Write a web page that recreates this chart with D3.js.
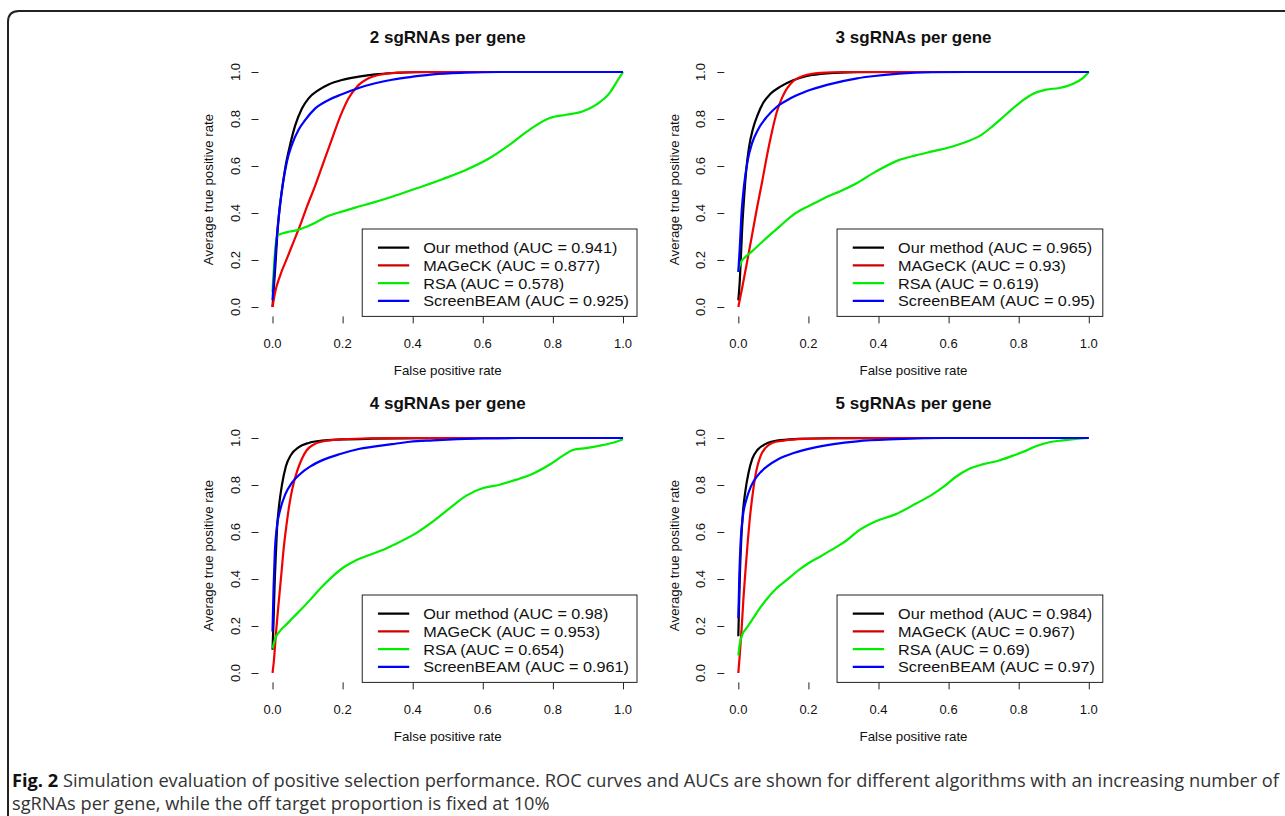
<!DOCTYPE html>
<html>
<head>
<meta charset="utf-8">
<script src="https://cdn.jsdelivr.net/npm/d3@7"></script>
<style>
  html, body { margin: 0; padding: 0; background: #fff; }
  svg { display: block; }
</style>
</head>
<body>
<svg id="chart" width="1285" height="816"></svg>
<script>
// ROC curves: [false positive rate, average true positive rate]
var methods = ["Our method", "MAGeCK", "RSA", "ScreenBEAM"];
var colors = ["#000000", "#f00000", "#00ee00", "#0000ff"];
var titles = ["2 sgRNAs per gene", "3 sgRNAs per gene", "4 sgRNAs per gene", "5 sgRNAs per gene"];
var aucs = [
  ["0.941", "0.877", "0.578", "0.925"],
  ["0.965", "0.93", "0.619", "0.95"],
  ["0.98", "0.953", "0.654", "0.961"],
  ["0.984", "0.967", "0.69", "0.97"]
];
var tickVals = [0, 0.2, 0.4, 0.6, 0.8, 1.0];

var p2_our = [[0,0],[0.0076,0.163],[0.015,0.334],[0.025,0.476],[0.036,0.589],[0.05,0.689],[0.065,0.774],[0.084,0.845],[0.103,0.888],[0.131,0.923],[0.16,0.947],[0.198,0.966],[0.246,0.98],[0.293,0.99],[0.35,0.996],[0.41,0.999],[0.5,1],[1,1]];
var p2_mageck = [[0,0],[0.0076,0.064],[0.022,0.135],[0.041,0.206],[0.06,0.277],[0.079,0.348],[0.098,0.426],[0.122,0.518],[0.146,0.618],[0.17,0.717],[0.193,0.81],[0.217,0.888],[0.241,0.9375],[0.274,0.973],[0.312,0.99],[0.36,0.997],[0.42,1],[1,1]];
var p2_rsa = [[0,0.064],[0.0057,0.206],[0.013,0.303],[0.027,0.3125],[0.046,0.32],[0.07,0.327],[0.093,0.339],[0.122,0.359],[0.16,0.388],[0.198,0.406],[0.236,0.423],[0.284,0.443],[0.341,0.469],[0.411,0.505],[0.487,0.545],[0.553,0.584],[0.62,0.634],[0.677,0.691],[0.734,0.755],[0.791,0.804],[0.838,0.818],[0.886,0.833],[0.924,0.861],[0.962,0.911],[0.986,0.967],[1,1]];
var p2_screenbeam = [[0,0.03],[0.0095,0.249],[0.019,0.405],[0.029,0.518],[0.041,0.618],[0.055,0.689],[0.074,0.753],[0.093,0.795],[0.122,0.845],[0.16,0.881],[0.198,0.905],[0.246,0.932],[0.293,0.952],[0.341,0.967],[0.4,0.98],[0.458,0.99],[0.55,0.997],[0.65,1],[1,1]];

var p3_our = [[0,0.028],[0.004,0.107],[0.0076,0.22],[0.011,0.334],[0.017,0.476],[0.023,0.589],[0.03,0.675],[0.042,0.76],[0.055,0.817],[0.072,0.871],[0.091,0.906],[0.12,0.9375],[0.158,0.966],[0.196,0.983],[0.253,0.994],[0.339,0.999],[0.46,1],[1,1]];
var p3_mageck = [[0,0],[0.0105,0.078],[0.025,0.192],[0.039,0.305],[0.053,0.419],[0.068,0.533],[0.082,0.646],[0.096,0.746],[0.11,0.831],[0.125,0.891],[0.139,0.93],[0.158,0.963],[0.187,0.984],[0.234,0.996],[0.301,1],[1,1]];
var p3_rsa = [[0,0.156],[0.0057,0.185],[0.02,0.213],[0.039,0.237],[0.063,0.27],[0.091,0.308],[0.12,0.345],[0.149,0.384],[0.177,0.412],[0.215,0.44],[0.253,0.469],[0.291,0.493],[0.339,0.528],[0.391,0.575],[0.458,0.625],[0.506,0.645],[0.553,0.662],[0.601,0.679],[0.649,0.702],[0.697,0.736],[0.725,0.769],[0.763,0.818],[0.802,0.868],[0.84,0.906],[0.878,0.925],[0.916,0.932],[0.954,0.949],[0.983,0.974],[1,1]];
var p3_screenbeam = [[0,0.149],[0.004,0.249],[0.0095,0.405],[0.017,0.526],[0.027,0.625],[0.039,0.696],[0.058,0.76],[0.082,0.81],[0.11,0.852],[0.149,0.888],[0.196,0.919],[0.253,0.945],[0.339,0.973],[0.382,0.982],[0.458,0.993],[0.553,0.999],[0.65,1],[1,1]];

var p4_our = [[0,0.099],[0.003,0.22],[0.0057,0.362],[0.0095,0.504],[0.013,0.617],[0.019,0.716],[0.027,0.801],[0.038,0.879],[0.053,0.929],[0.074,0.96],[0.103,0.979],[0.141,0.989],[0.198,0.994],[0.284,0.997],[0.45,0.999],[0.63,1],[1,1]];
var p4_mageck = [[0,0],[0.0038,0.05],[0.0095,0.163],[0.017,0.291],[0.025,0.418],[0.032,0.532],[0.04,0.631],[0.048,0.716],[0.057,0.787],[0.07,0.858],[0.084,0.912],[0.098,0.949],[0.117,0.972],[0.146,0.986],[0.198,0.994],[0.284,0.999],[0.4,1],[1,1]];
var p4_rsa = [[0,0.104],[0.0076,0.146],[0.022,0.18],[0.041,0.209],[0.06,0.238],[0.084,0.274],[0.112,0.319],[0.141,0.367],[0.17,0.409],[0.203,0.45],[0.236,0.478],[0.274,0.501],[0.312,0.522],[0.341,0.542],[0.411,0.596],[0.458,0.645],[0.506,0.702],[0.553,0.755],[0.601,0.787],[0.648,0.801],[0.696,0.823],[0.743,0.848],[0.791,0.887],[0.829,0.925],[0.857,0.949],[0.895,0.957],[0.933,0.967],[0.971,0.98],[1,0.995]];
var p4_screenbeam = [[0,0.177],[0.003,0.362],[0.0067,0.518],[0.012,0.617],[0.022,0.695],[0.036,0.759],[0.055,0.809],[0.079,0.847],[0.108,0.879],[0.146,0.908],[0.193,0.932],[0.246,0.953],[0.341,0.974],[0.392,0.984],[0.458,0.99],[0.6,0.998],[0.7,1],[1,1]];

var p5_our = [[0,0.156],[0.0019,0.277],[0.0048,0.433],[0.0086,0.574],[0.013,0.681],[0.02,0.773],[0.029,0.851],[0.04,0.912],[0.055,0.95],[0.077,0.974],[0.11,0.989],[0.168,0.996],[0.253,0.999],[0.58,1],[1,1]];
var p5_mageck = [[0,0],[0.0038,0.071],[0.0095,0.191],[0.015,0.326],[0.021,0.447],[0.027,0.56],[0.034,0.674],[0.042,0.773],[0.051,0.858],[0.063,0.922],[0.077,0.957],[0.096,0.979],[0.13,0.989],[0.187,0.996],[0.282,0.999],[0.4,1],[1,1]];
var p5_rsa = [[0,0.075],[0.0038,0.121],[0.0105,0.16],[0.025,0.194],[0.044,0.237],[0.063,0.279],[0.082,0.316],[0.11,0.362],[0.139,0.397],[0.168,0.433],[0.201,0.468],[0.234,0.496],[0.272,0.529],[0.31,0.565],[0.342,0.605],[0.391,0.645],[0.448,0.675],[0.506,0.72],[0.553,0.759],[0.587,0.794],[0.62,0.834],[0.658,0.868],[0.697,0.888],[0.744,0.904],[0.782,0.924],[0.811,0.94],[0.849,0.965],[0.887,0.982],[0.926,0.99],[0.964,0.996],[1,1]];
var p5_screenbeam = [[0,0.234],[0.003,0.418],[0.0067,0.56],[0.013,0.667],[0.023,0.738],[0.036,0.794],[0.055,0.84],[0.082,0.879],[0.115,0.911],[0.158,0.936],[0.21,0.957],[0.272,0.974],[0.339,0.986],[0.45,0.995],[0.59,1],[1,1]];

var curves = [
  [p2_our, p2_mageck, p2_rsa, p2_screenbeam],
  [p3_our, p3_mageck, p3_rsa, p3_screenbeam],
  [p4_our, p4_mageck, p4_rsa, p4_screenbeam],
  [p5_our, p5_mageck, p5_rsa, p5_screenbeam]
];

var FONT = "'Liberation Sans', Arial, sans-serif";
var svg = d3.select("#chart");

// page frame with rounded corner
svg.append("path")
  .attr("d", "M8,816 V22 Q8,11 19,11 H1285")
  .attr("fill", "none").attr("stroke", "#222").attr("stroke-width", 2);

function txt(parent, x, y, s, size, opt) {
  opt = opt || {};
  var sx = opt.sx || 1;
  var tr = "translate(" + x + "," + y + ")" +
    (opt.rot ? " rotate(" + opt.rot + ")" : " scale(" + sx + ",1)");
  return parent.append("text")
    .attr("transform", tr)
    .attr("font-family", FONT)
    .attr("font-size", size)
    .attr("font-weight", opt.weight || "normal")
    .attr("text-anchor", opt.anchor || "middle")
    .attr("dominant-baseline", opt.baseline || "alphabetic")
    .attr("fill", "#111")
    .text(s);
}

var pw = 378.5, ph = 253.8;
var lefts = [258.5, 724.3], tops = [62.6, 428.6];

titles.forEach(function(title, i) {
  var L = lefts[i % 2], T = tops[Math.floor(i / 2)];
  var R = L + pw, B = T + ph;
  var g = svg.append("g");

  var x = d3.scaleLinear().domain([-0.04, 1.04]).range([L, R]);
  var y = d3.scaleLinear().domain([-0.04, 1.04]).range([B, T]);

  // axes: ticks from d3, labels placed by hand
  var xa = g.append("g").attr("transform", "translate(0," + B + ")")
    .call(d3.axisBottom(x).tickValues(tickVals).tickSize(7).tickSizeOuter(0));
  var ya = g.append("g").attr("transform", "translate(" + L + ",0)")
    .call(d3.axisLeft(y).tickValues(tickVals).tickSize(7).tickSizeOuter(0));
  [xa, ya].forEach(function(a) {
    a.select(".domain").remove();
    a.attr("color", "#222");
    a.selectAll(".tick text").remove();
  });
  tickVals.forEach(function(v) {
    txt(g, x(v), B + 31.5, d3.format(".1f")(v), 13);
    txt(g, L - 19, y(v), d3.format(".1f")(v), 13, {rot: -90});
  });

  txt(g, (L + R) / 2, T - 20, title, 17, {weight: "bold"});
  txt(g, (L + R) / 2, B + 58.6, "False positive rate", 13.3);
  txt(g, L - 45.5, (T + B) / 2, "Average true positive rate", 13.3, {rot: -90});

  // curves
  var line = d3.line()
    .x(function(d) { return x(d[0]); })
    .y(function(d) { return y(d[1]); })
    .curve(d3.curveMonotoneX);
  curves[i].forEach(function(c, k) {
    g.append("path").datum(c)
      .attr("d", line)
      .attr("fill", "none")
      .attr("stroke", colors[k])
      .attr("stroke-width", 2.2)
      .attr("stroke-linejoin", "round");
  });

  // legend, bottom right
  var lg = g.append("g");
  var box = lg.append("rect");
  var labels = methods.map(function(m, k) { return m + " (AUC = " + aucs[i][k] + ")"; });
  var legSx = 1.06, legSize = 15.3;
  var items = labels.map(function(s) {
    return txt(lg, 0, 0, s, legSize, {sx: legSx, anchor: "start", baseline: "central"});
  });
  var maxW = d3.max(items, function(t) { return t.node().getComputedTextLength() * legSx; });
  var legW = 61 + maxW + 8, legTop = B - 87.4;
  var legL = R - legW;
  box.attr("x", legL).attr("y", legTop).attr("width", legW).attr("height", B - legTop)
    .attr("fill", "#fff").attr("stroke", "#222").attr("stroke-width", 1);
  items.forEach(function(t, k) {
    var yy = legTop + 18.7 + k * 17.75;
    t.attr("transform", "translate(" + (legL + 61) + "," + yy + ") scale(" + legSx + ",1)");
    lg.append("line")
      .attr("x1", legL + 15.7).attr("x2", legL + 47)
      .attr("y1", yy).attr("y2", yy)
      .attr("stroke", k == 1 ? "#d00000" : colors[k]).attr("stroke-width", 2.2);
  });
});

// caption
var capFont = "'Open Sans', 'Noto Sans', sans-serif";
var cap1 = svg.append("text").attr("x", 12).attr("y", 787)
  .attr("font-family", capFont).attr("font-size", 17).attr("fill", "#333");
cap1.append("tspan").attr("font-weight", "bold").attr("fill", "#111").text("Fig. 2");
cap1.append("tspan").text(" Simulation evaluation of positive selection performance. ROC curves and AUCs are shown for different algorithms with an increasing number of");
var capSize = 17 * 1268 / cap1.node().getComputedTextLength();
cap1.attr("font-size", capSize);
svg.append("text").attr("x", 12).attr("y", 810)
  .attr("font-family", capFont).attr("font-size", capSize).attr("fill", "#333")
  .text("sgRNAs per gene, while the off target proportion is fixed at 10%");
</script>
</body>
</html>
